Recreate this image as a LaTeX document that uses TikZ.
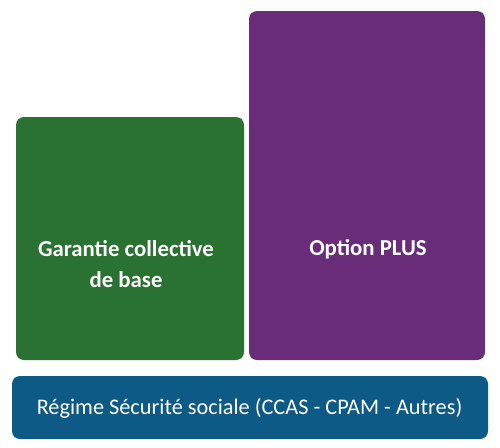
\documentclass[tikz,border=0pt]{standalone}
\usepackage{fontspec}
\setmainfont{Carlito}
\usepackage{tikz}
\usetikzlibrary{positioning}

\definecolor{garantiegreen}{RGB}{42,114,50}
\definecolor{optionpurple}{RGB}{104,44,120}
\definecolor{regimeblue}{RGB}{14,90,135}

\tikzset{
  block/.style={rounded corners=8pt, inner sep=0pt, outer sep=0pt},
  blocktext/.style={text=white, align=center, font=\fontsize{22.8}{30.5}\selectfont\bfseries},
}

\begin{document}
\begin{tikzpicture}[x=1pt, y=-1pt]
    \useasboundingbox (0,0) rectangle (500,447);

    \node [block, fill=garantiegreen, minimum width=228pt, minimum height=243pt] (garantie) at (130,238.5) {};
    \node [block, fill=optionpurple, minimum width=236pt, minimum height=349pt] (option) at (367,185.5) {};
    \node [block, fill=regimeblue, minimum width=476pt, minimum height=63pt] (regime) at (250,407.5) {};

    \node [blocktext] (garantietext) at (126,264) {Garantie collective\\de base};
    \node [blocktext] (optiontext) at (368,249) {Option PLUS};
    \node [blocktext, font=\fontsize{22.3}{26}\selectfont] (regimetext) at (249.5,408) {Régime Sécurité sociale (CCAS - CPAM - Autres)};
\end{tikzpicture}
\end{document}
